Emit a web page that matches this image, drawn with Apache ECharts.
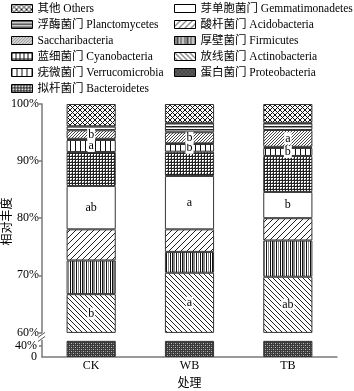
<!DOCTYPE html>
<html><head><meta charset="utf-8">
<script src="https://cdn.jsdelivr.net/npm/echarts@6/dist/echarts.min.js"></script>
<style>html,body{margin:0;padding:0;background:#fff}#c{width:354px;height:391px}</style>
</head><body><div id="c"></div>
<script>
// ---- data (percent relative abundance) ----
const categories = ['CK', 'WB', 'TB'];
const proteobacteria   = [58.8, 58.6, 58.7];
const actinobacteria   = [7.9, 11.85, 11.05];
const firmicutes       = [5.9, 3.65, 6.35];
const acidobacteria    = [5.45, 3.95, 3.9];
const gemmatimonadetes = [7.6, 9.35, 4.6];
const bacteroidetes    = [5.95, 4.25, 6.3];
const verrucomicrobia  = [2.1, 1.35, 1.4];
const cyanobacteria    = [0.2, 0.1, 0.2];
const saccharibacteria = [1.5, 1.95, 2.95];
const planctomycetes   = [0.7, 1.65, 1.25];
const others           = [3.9, 3.3, 3.3];
// significance letters
const actinoLetters = ['b', 'a', 'ab'];
const gemmaLetters  = ['ab', 'a', 'b'];
const verrucoLetters = ['a', 'b', 'b'];
const sacchLetters  = ['b', 'b', 'a'];
// axis ranges / ticks
const upperRange = [60, 100];
const upperInterval = 10;
const lowerRange = [0, 60];
const lowerInterval = 20;
const lowerLabelled = [0, 40];

// ---- styles ----
const FONT = "'Liberation Serif','Noto Sans CJK SC',serif";
function pat(w, h, draw) {
  const c = document.createElement('canvas'); c.width = w; c.height = h;
  const g = c.getContext('2d'); g.fillStyle = '#fff'; g.fillRect(0, 0, w, h);
  draw(g, w, h);
  return { image: c, repeat: 'repeat' };
}
function diag(s, dir, col, lw) {
  return pat(s, s, (g) => {
    g.strokeStyle = col; g.lineWidth = lw; g.beginPath();
    if (dir > 0) { g.moveTo(0, s); g.lineTo(s, 0); g.moveTo(-1, 1); g.lineTo(1, -1); g.moveTo(s - 1, s + 1); g.lineTo(s + 1, s - 1); }
    else { g.moveTo(0, 0); g.lineTo(s, s); g.moveTo(-1, s - 1); g.lineTo(1, s + 1); g.moveTo(s - 1, -1); g.lineTo(s + 1, 1); }
    g.stroke();
  });
}
const P = {
  others: pat(5, 5, (g) => { g.strokeStyle = '#111'; g.lineWidth = 1; g.beginPath(); g.moveTo(0, 0); g.lineTo(5, 5); g.moveTo(0, 5); g.lineTo(5, 0); g.stroke(); }),
  planc: pat(4, 3, (g) => { g.fillStyle = '#222'; g.fillRect(0, 0, 4, 1); g.fillStyle = '#999'; g.fillRect(0, 1, 4, 1); }),
  sacch: diag(3, 1, '#444', 1),
  cyano: pat(4, 6, (g) => { g.fillStyle = '#111'; g.fillRect(0, 0, 1, 6); g.fillRect(0, 0, 4, 1); }),
  verruco: pat(5, 1, (g) => { g.fillStyle = '#111'; g.fillRect(0, 0, 1, 1); }),
  bactero: pat(3, 3, (g) => { g.fillStyle = '#222'; g.fillRect(0, 0, 1, 3); g.fillRect(0, 0, 3, 1); g.fillStyle = '#888'; g.fillRect(2, 2, 1, 1); }),
  gemma: '#ffffff',
  acido: diag(6, 1, '#222', 1),
  firm: pat(10, 1, (g) => { g.fillStyle = '#111'; g.fillRect(0, 0, 1, 1); g.fillRect(2, 0, 1, 1); g.fillRect(6, 0, 1, 1); g.fillStyle = '#888'; g.fillRect(3, 0, 2, 1); g.fillRect(8, 0, 1, 1); }),
  actino: diag(5, -1, '#222', 1),
  proteo: pat(4, 4, (g) => { g.fillStyle = '#3a3a3a'; g.fillRect(0, 0, 4, 4); g.fillStyle = '#bbb'; g.fillRect(1, 1, 1, 1); g.fillRect(3, 3, 1, 1); g.fillStyle = '#777'; g.fillRect(3, 1, 1, 1); g.fillRect(1, 3, 1, 1); })
};

const NAMES = {
  others: '其他 Others', planc: '浮酶菌门 Planctomycetes', sacch: 'Saccharibacteria',
  cyano: '蓝细菌门 Cyanobacteria', verruco: '疣微菌门 Verrucomicrobia', bactero: '拟杆菌门 Bacteroidetes',
  gemma: '芽单胞菌门 Gemmatimonadetes', acido: '酸杆菌门 Acidobacteria', firm: '厚壁菌门 Firmicutes',
  actino: '放线菌门 Actinobacteria', proteo: '蛋白菌门 Proteobacteria'
};
// stacking order bottom -> top
const stackDef = [
  ['proteo', proteobacteria, null], ['actino', actinobacteria, actinoLetters],
  ['firm', firmicutes, null], ['acido', acidobacteria, null],
  ['gemma', gemmatimonadetes, gemmaLetters], ['bactero', bacteroidetes, null],
  ['verruco', verrucomicrobia, verrucoLetters], ['cyano', cyanobacteria, null],
  ['sacch', saccharibacteria, sacchLetters], ['planc', planctomycetes, null],
  ['others', others, null]
];

const itemBase = { borderColor: '#333', borderWidth: 1 };
const labelBase = {
  position: 'inside', color: '#000', fontFamily: FONT, fontSize: 12, lineHeight: 12,
  backgroundColor: '#fff', padding: [0, 1]
};
const series = stackDef.map(([k, vals, letters]) => ({
  name: NAMES[k], type: 'bar', stack: 'up', xAxisIndex: 0, yAxisIndex: 0,
  barWidth: '50%', data: vals, clip: true,
  itemStyle: Object.assign({ color: P[k] }, itemBase),
  label: letters ? Object.assign({ show: true, formatter: (p) => letters[p.dataIndex] }, labelBase) : { show: false }
}));
series.push({
  name: NAMES.proteo, type: 'bar', stack: 'low', xAxisIndex: 1, yAxisIndex: 1,
  barWidth: '50%', data: proteobacteria, clip: true,
  itemStyle: Object.assign({ color: P.proteo }, itemBase)
});

const L = { left: 42, right: 17, upTop: 104, upH: 228.4, lowTop: 340.5, lowH: 22.5 };
const axisLineStyle = { color: '#7a7a7a', width: 1.5 };
const axisLabelStyle = { color: '#000', fontFamily: FONT, fontSize: 12, lineHeight: 12 };
const legendText = { color: '#000', fontFamily: FONT, fontSize: 11.5, lineHeight: 12 };
const legendCommon = {
  orient: 'vertical', top: 2.5, padding: 0, itemWidth: 21, itemHeight: 8, itemGap: 4, icon: 'rect',
  textStyle: legendText, selectedMode: false, itemStyle: { borderColor: '#000', borderWidth: 1 }
};

const chart = echarts.init(document.getElementById('c'), null, { renderer: 'canvas' });
const option = {
  animation: false,
  backgroundColor: '#fff',
  legend: [
    Object.assign({ left: 11, data: ['others', 'planc', 'sacch', 'cyano', 'verruco', 'bactero'].map(k => NAMES[k]) }, legendCommon),
    Object.assign({ left: 174, data: ['gemma', 'acido', 'firm', 'actino', 'proteo'].map(k => NAMES[k]) }, legendCommon)
  ],
  grid: [
    { left: L.left, right: L.right, top: L.upTop, height: L.upH },
    { left: L.left, right: L.right, top: L.lowTop, height: L.lowH }
  ],
  xAxis: [
    { type: 'category', gridIndex: 0, data: categories, axisLine: { show: false }, axisTick: { show: false }, axisLabel: { show: false } },
    { type: 'category', gridIndex: 1, data: categories, axisLine: { show: true, lineStyle: axisLineStyle },
      axisTick: { show: false }, axisLabel: Object.assign({ margin: 3 }, axisLabelStyle),
      name: '处理', nameLocation: 'middle', nameGap: 21, nameTextStyle: axisLabelStyle }
  ],
  yAxis: [
    { type: 'value', gridIndex: 0, min: upperRange[0], max: upperRange[1], interval: upperInterval,
      axisLine: { show: true, lineStyle: axisLineStyle }, axisTick: { show: true, length: 3, lineStyle: axisLineStyle },
      axisLabel: Object.assign({ margin: 3, formatter: '{value}%' }, axisLabelStyle), splitLine: { show: false } },
    { type: 'value', gridIndex: 1, min: lowerRange[0], max: lowerRange[1], interval: lowerInterval,
      axisLine: { show: true, lineStyle: axisLineStyle },
      axisTick: { show: true, length: 3, customValues: lowerLabelled.filter(v => v > 0), lineStyle: axisLineStyle },
      axisLabel: Object.assign({ margin: 5, showMinLabel: true, showMaxLabel: false, hideOverlap: false,
        formatter: (v) => lowerLabelled.indexOf(v) < 0 ? '' : (v === 0 ? '0' : v + '%') }, axisLabelStyle),
      splitLine: { show: false } }
  ],
  series: series
};
chart.setOption(option);

// axis title and axis-break marks
const y60 = chart.convertToPixel({ yAxisIndex: 0 }, upperRange[0]);
const yLowTop = chart.convertToPixel({ yAxisIndex: 1 }, lowerRange[1]);
const yMid = (chart.convertToPixel({ yAxisIndex: 0 }, upperRange[1]) + chart.convertToPixel({ yAxisIndex: 1 }, 0)) / 2;
const x0 = L.left;
chart.setOption({
  graphic: [
    { type: 'text', x: 6, y: yMid - 9, rotation: Math.PI / 2,
      style: { text: '相对丰度', fill: '#000', font: "12px 'Noto Sans CJK SC'", align: 'center', verticalAlign: 'middle' } },
    { type: 'line', shape: { x1: x0 - 4, y1: y60 + 5, x2: x0 + 3, y2: y60 }, style: { stroke: '#555', lineWidth: 1 } },
    { type: 'line', shape: { x1: x0 - 4, y1: yLowTop + 1, x2: x0 + 3, y2: yLowTop - 4 }, style: { stroke: '#555', lineWidth: 1 } }
  ]
});
</script></body></html>
